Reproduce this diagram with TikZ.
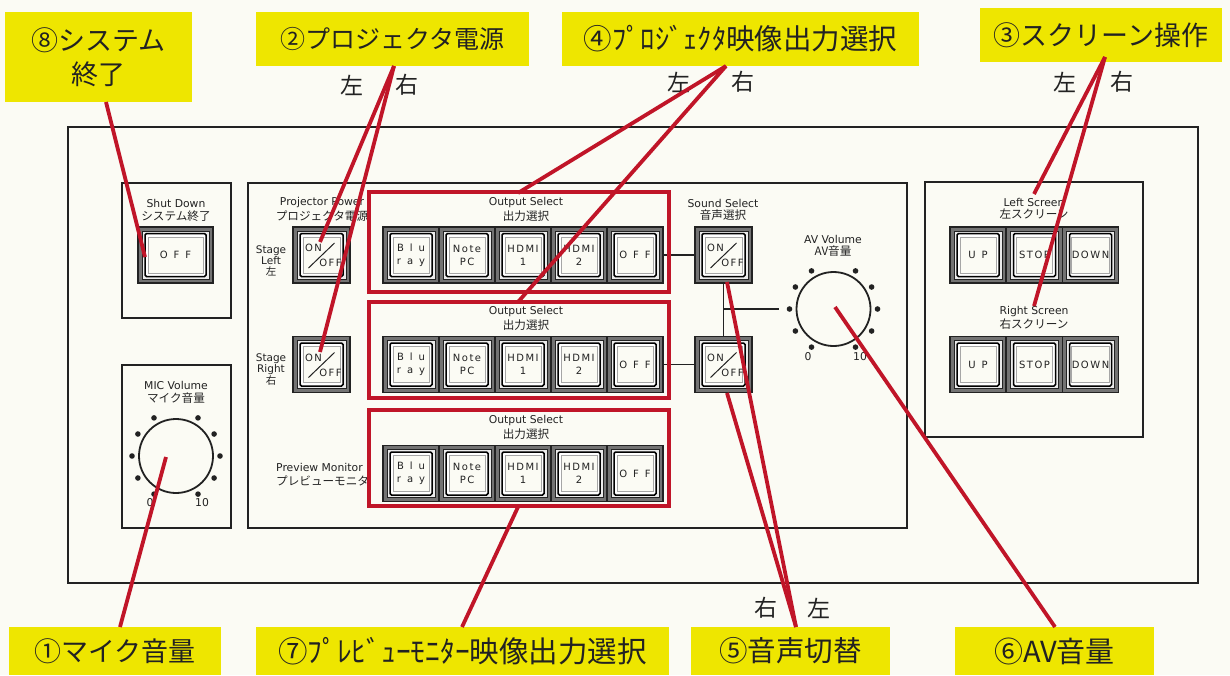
\documentclass[tikz,border=0pt]{standalone}
\usepackage{fontspec}
\setmainfont{DejaVu Sans}
\newfontfamily\cjk{Noto Sans CJK JP}
\newfontfamily\btnfont[LetterSpace=15]{DejaVu Sans}
\newfontfamily\btnwide[LetterSpace=60]{DejaVu Sans}
\definecolor{paper}{HTML}{FBFBF4}
\definecolor{tagyellow}{HTML}{EEE600}
\definecolor{markred}{HTML}{C01528}
\definecolor{ink}{HTML}{222222}

\tikzset{
    tagbox/.style={fill=tagyellow, inner sep=0pt, align=center, text=ink,
        font=\cjk\fontsize{27}{34}\selectfont},
    sidetag/.style={text=ink, inner sep=0pt, font=\cjk\fontsize{23}{23}\selectfont},
    panelbox/.style={draw=ink, line width=2.2pt},
    selectbox/.style={draw=markred, line width=3.6pt},
    markline/.style={draw=markred, line width=3.8pt},
    wireline/.style={draw=ink, line width=1.5pt},
    caption/.style={text=ink, inner sep=0pt, align=center,
        font=\fontsize{10.8}{11}\selectfont},
    jcaption/.style={text=ink, inner sep=0pt, align=center,
        font=\cjk\fontsize{11.6}{12}\selectfont},
    btnouter/.style={draw=ink, fill=black!55, line width=1.5pt, minimum height=56pt, inner sep=0pt},
    btnmid/.style={draw=ink, fill=black!8, line width=1pt, minimum height=48pt, inner sep=0pt},
    btnrim/.style={draw=black, fill=white, line width=1.5pt, rounded corners=1.5pt, minimum height=43pt, inner sep=0pt},
    btnface/.style={draw=black!35, fill=paper, line width=.9pt, minimum height=36pt, inner sep=0pt,
        align=center, text=ink, font=\btnfont\fontsize{10}{13}\selectfont},
    knob/.style={draw=ink, circle, line width=1.8pt, minimum size=74pt, inner sep=0pt},
    knobdot/.style={fill=ink}
}

% name, x, y, width, text
\newcommand{\panelbtn}[5]{
    \node[btnouter, minimum width=#4pt] (#1) at (#2,#3) {};
    \node[btnmid, minimum width=#4pt-8pt] (#1m) at (#1) {};
    \node[btnrim, minimum width=#4pt-14pt] (#1r) at (#1) {};
    \node[btnface, minimum width=#4pt-20pt] (#1f) at (#1) {#5};
}
% name, x, y
\newcommand{\onoffbtn}[3]{
    \panelbtn{#1}{#2}{#3}{57}{}
    \node[caption, font=\btnfont\fontsize{10}{11}\selectfont] (#1on) at ([shift={(-8,-7)}]#1.center) {ON};
    \node[caption, font=\btnfont\fontsize{10}{11}\selectfont] (#1off) at ([shift={(9,8)}]#1.center) {OFF};
    \draw[ink, line width=1pt] ([shift={(-13,13)}]#1.center) -- ([shift={(13,-12)}]#1.center);
}
% row name, y
\newcommand{\outputrow}[2]{
    \panelbtn{#1a}{411}{#2}{56}{\btnwide Blu\\\btnwide ray}
    \panelbtn{#1b}{467}{#2}{56}{Note\\PC}
    \panelbtn{#1c}{523}{#2}{56}{HDMI\\1}
    \panelbtn{#1d}{579}{#2}{56}{HDMI\\2}
    \panelbtn{#1e}{635}{#2}{56}{\btnwide OFF}
}

\begin{document}
\begin{tikzpicture}[x=1pt, y=-1pt]
    \useasboundingbox (0,0) rectangle (1230,675);
    \fill[paper] (0,0) rectangle (1230,675);

    % Yellow tags, top
    \node[tagbox, minimum width=187pt, minimum height=90pt] (tag8) at (98.5,57) {⑧システム\\終了};
    \node[tagbox, minimum width=273pt, minimum height=54pt, font=\cjk\fontsize{25}{30}\selectfont] (tag2) at (392.5,39) {②プロジェクタ電源};
    \node[tagbox, minimum width=357pt, minimum height=54pt, font=\cjk\fontsize{28.5}{30}\selectfont] (tag4) at (740.5,39) {④ﾌﾟﾛｼﾞｪｸﾀ映像出力選択};
    \node[tagbox, minimum width=242pt, minimum height=54pt] (tag3) at (1101,35) {③スクリーン操作};

    % Yellow tags, bottom
    \node[tagbox, minimum width=212pt, minimum height=48pt] (tag1) at (115,651) {①マイク音量};
    \node[tagbox, minimum width=413pt, minimum height=48pt, font=\cjk\fontsize{29.5}{30}\selectfont] (tag7) at (462.5,651) {⑦ﾌﾟﾚﾋﾞｭｰﾓﾆﾀｰ映像出力選択};
    \node[tagbox, minimum width=199pt, minimum height=48pt, font=\cjk\fontsize{28.5}{30}\selectfont] (tag5) at (790.5,651) {⑤音声切替};
    \node[tagbox, minimum width=199pt, minimum height=48pt, font=\cjk\fontsize{29}{30}\selectfont] (tag6) at (1054.5,651) {⑥AV音量};

    % Left and right marks
    \node[sidetag] (sl2) at (352,85) {左};
    \node[sidetag] (sr2) at (407,85) {右};
    \node[sidetag] (sl4) at (679,82) {左};
    \node[sidetag] (sr4) at (743,82) {右};
    \node[sidetag] (sl3) at (1065,82) {左};
    \node[sidetag] (sr3) at (1122,82) {右};
    \node[sidetag] (sr5) at (766,608) {右};
    \node[sidetag] (sl5) at (819,608) {左};

    % Panel frames
    \draw[draw=ink, line width=1.6pt] (68,127) rectangle (1198,583);
    \draw[panelbox] (122,183) rectangle (231,318);
    \draw[panelbox] (122,365) rectangle (231,528);
    \draw[panelbox] (248,183) rectangle (907,528);
    \draw[panelbox] (925,182) rectangle (1143,437);

    % Shut down
    \node[caption] (shuten) at (176,203) {Shut Down};
    \node[jcaption] (shutjp) at (176,216) {システム終了};
    \panelbtn{shutoff}{175.5}{255}{75}{\btnwide OFF}

    % Mic volume
    \node[caption] (micen) at (176,385) {MIC Volume};
    \node[jcaption] (micjp) at (176,398) {マイク音量};
    \node[knob] (micknob) at (176,456) {};
    \foreach \a in {0,30,60,120,150,180,210,240,300,330} {
        \fill[knobdot] (micknob.center) ++(\a:44) circle (2.8);
    }
    \node[caption] (mic0) at (150,503) {0};
    \node[caption] (mic10) at (202,503) {10};

    % Projector power
    \node[caption] (projen) at (322,203) {Projector Power};
    \node[jcaption] (projjp) at (322,216) {プロジェクタ電源};
    \node[caption, font=\fontsize{10.5}{11}\selectfont] (stleft) at (271,261) {Stage\\Left\\\cjk 左};
    \node[caption, font=\fontsize{10.5}{11}\selectfont] (stright) at (271,370) {Stage\\Right\\\cjk 右};
    \onoffbtn{proja}{321.5}{255}
    \onoffbtn{projb}{321.5}{364.5}

    % Output select rows
    \node[caption] (outaen) at (526,203) {Output Select};
    \node[jcaption] (outajp) at (526,216) {出力選択};
    \outputrow{oa}{255}
    \node[caption] (outben) at (526,312) {Output Select};
    \node[jcaption] (outbjp) at (526,325) {出力選択};
    \outputrow{ob}{364.5}
    \node[caption] (outcen) at (526,421) {Output Select};
    \node[jcaption] (outcjp) at (526,434) {出力選択};
    \outputrow{oc}{473.5}
    \node[caption, anchor=west] (prevten) at (276,467) {Preview Monitor};
    \node[jcaption, anchor=west] (prevjp) at (276,481) {プレビューモニタ};

    % Sound select
    \node[caption] (sounden) at (723,203) {Sound Select};
    \node[jcaption] (soundjp) at (723,215) {音声選択};
    \onoffbtn{sounda}{723.5}{255}
    \onoffbtn{soundb}{723.5}{364.5}
    \draw[wireline] (oae) -- (sounda);
    \draw[wireline] (obe) -- (soundb);
    \draw[wireline] (sounda) -- (soundb);
    \coordinate (wirejoin) at (724,309);
    \coordinate (wireend) at (779,309);
    \draw[wireline] (wirejoin) -- (wireend);

    % AV volume
    \node[caption] (aven) at (833,239) {AV Volume};
    \node[jcaption] (avjp) at (833,251) {AV音量};
    \node[knob] (avknob) at (833.5,309) {};
    \foreach \a in {0,30,60,120,150,180,210,240,300,330} {
        \fill[knobdot] (avknob.center) ++(\a:44) circle (2.8);
    }
    \node[caption] (av0) at (808,357) {0};
    \node[caption] (av10) at (860,357) {10};

    % Screens
    \node[caption] (lefts) at (1034,202) {Left Screen};
    \node[jcaption] (leftsjp) at (1034,214) {左スクリーン};
    \panelbtn{lsa}{978}{255}{56}{\btnwide UP}
    \panelbtn{lsb}{1034.5}{255}{56}{STOP}
    \panelbtn{lsc}{1090.5}{255}{56}{DOWN}
    \node[caption] (rights) at (1034,312) {Right Screen};
    \node[jcaption] (rightsjp) at (1034,324) {右スクリーン};
    \panelbtn{rsa}{978}{364.5}{56}{\btnwide UP}
    \panelbtn{rsb}{1034.5}{364.5}{56}{STOP}
    \panelbtn{rsc}{1090.5}{364.5}{56}{DOWN}

    % Red frames round the rows
    \draw[selectbox] (369,192) rectangle (669,292);
    \draw[selectbox] (369,302) rectangle (669,398);
    \draw[selectbox] (369,410) rectangle (669,506);

    % Red lines
    \coordinate (top8) at (106,102);
    \coordinate (top2) at (394,66);
    \coordinate (top4) at (726,66);
    \coordinate (top3) at (1105,57);
    \coordinate (bot1) at (120,627);
    \coordinate (bot7) at (462,627);
    \coordinate (bot5) at (796,627);
    \coordinate (bot6) at (1055,627);
    \coordinate (end8) at (145,257);
    \coordinate (end2a) at (320,242);
    \coordinate (end2b) at (320,352);
    \coordinate (end4a) at (518,193);
    \coordinate (end4b) at (518,302);
    \coordinate (end3a) at (1034,194);
    \coordinate (end3b) at (1034,306);
    \coordinate (end1) at (166,457);
    \coordinate (end7) at (518,507);
    \coordinate (end5a) at (727,282);
    \coordinate (end5b) at (727,393);
    \coordinate (end6) at (835,307);
    \draw[markline] (top8) -- (end8);
    \draw[markline] (top2) -- (end2a);
    \draw[markline] (top2) -- (end2b);
    \draw[markline] (top4) -- (end4a);
    \draw[markline] (top4) -- (end4b);
    \draw[markline] (top3) -- (end3a);
    \draw[markline] (top3) -- (end3b);
    \draw[markline] (bot1) -- (end1);
    \draw[markline] (bot7) -- (end7);
    \draw[markline] (bot5) -- (end5a);
    \draw[markline] (bot5) -- (end5b);
    \draw[markline] (bot6) -- (end6);
\end{tikzpicture}
\end{document}
